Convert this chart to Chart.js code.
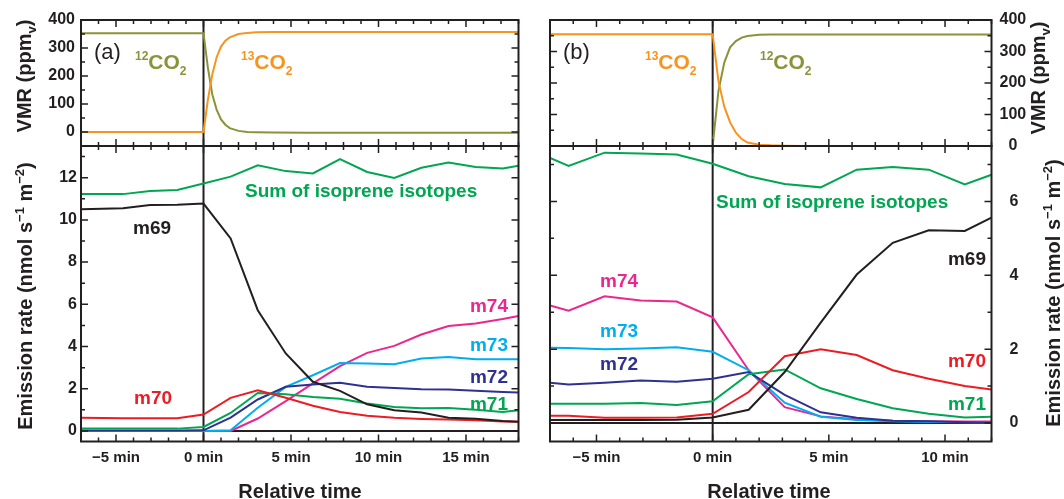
<!DOCTYPE html>
<html>
<head>
<meta charset="utf-8">
<script src="https://cdn.jsdelivr.net/npm/chart.js@4.4.0/dist/chart.umd.min.js"></script>
<style>
  body { margin: 0; background: #fff; }
  #wrap { position: relative; width: 1064px; height: 499px; overflow: hidden; font-family: "Liberation Sans", Arial, sans-serif; color: #231f20; }
  canvas { position: absolute; left: 0; top: 0; }
  .t { position: absolute; white-space: nowrap; line-height: 1; font-weight: bold; transform: translateY(-50%); }
  .r { transform: translate(-50%, -50%) rotate(-90deg); font-size: 20px; }
  .up { position: relative; font-size: 12px; top: -9px; }
  .dn { position: relative; font-size: 12px; top: 6px; }
  .sup { position: relative; font-size: 13px; top: -8px; }
  .sub { position: relative; font-size: 13px; top: 5px; }
</style>
</head>
<body>
<div id="wrap">
  <canvas id="topA" width="1064" height="499"></canvas>
  <canvas id="botA" width="1064" height="499"></canvas>
  <canvas id="topB" width="1064" height="499"></canvas>
  <canvas id="botB" width="1064" height="499"></canvas>

  <div class="t" style="left:94px;top:52px;font-size:22px;font-weight:normal">(a)</div>
  <div class="t" style="left:135px;top:61px;font-size:21px;color:#8a9337"><span class="up">12</span>CO<span class="dn">2</span></div>
  <div class="t" style="left:241px;top:61px;font-size:21px;color:#f7941d"><span class="up">13</span>CO<span class="dn">2</span></div>
  <div class="t" style="left:563px;top:52px;font-size:22px;font-weight:normal">(b)</div>
  <div class="t" style="left:645px;top:61px;font-size:21px;color:#f7941d"><span class="up">13</span>CO<span class="dn">2</span></div>
  <div class="t" style="left:760px;top:61px;font-size:21px;color:#8a9337"><span class="up">12</span>CO<span class="dn">2</span></div>

  <div class="t" style="left:245px;top:190px;font-size:19px;color:#00a651">Sum of isoprene isotopes</div>
  <div class="t" style="left:133px;top:227px;font-size:19px">m69</div>
  <div class="t" style="left:134px;top:397px;font-size:19px;color:#ed1c24">m70</div>
  <div class="t" style="right:556px;top:305px;font-size:19px;color:#ec268f">m74</div>
  <div class="t" style="right:556px;top:344px;font-size:19px;color:#00aeef">m73</div>
  <div class="t" style="right:556px;top:376px;font-size:19px;color:#2e3192">m72</div>
  <div class="t" style="right:556px;top:403px;font-size:19px;color:#00a651">m71</div>

  <div class="t" style="left:716px;top:201px;font-size:19px;color:#00a651">Sum of isoprene isotopes</div>
  <div class="t" style="left:600px;top:280px;font-size:19px;color:#ec268f">m74</div>
  <div class="t" style="left:600px;top:330px;font-size:19px;color:#00aeef">m73</div>
  <div class="t" style="left:600px;top:363px;font-size:19px;color:#2e3192">m72</div>
  <div class="t" style="right:78px;top:258px;font-size:19px">m69</div>
  <div class="t" style="right:78px;top:360px;font-size:19px;color:#ed1c24">m70</div>
  <div class="t" style="right:78px;top:403px;font-size:19px;color:#00a651">m71</div>

  <div class="t r" style="left:24px;top:76px">VMR (ppm<span class="sub">v</span>)</div>
  <div class="t r" style="left:25px;top:296px">Emission rate (nmol s<span class="sup">−1</span> m<span class="sup">−2</span>)</div>
  <div class="t r" style="left:1038px;top:78px">VMR (ppm<span class="sub">v</span>)</div>
  <div class="t r" style="left:1053px;top:293px">Emission rate (nmol s<span class="sup">−1</span> m<span class="sup">−2</span>)</div>
  <div class="t" style="left:300px;top:491px;font-size:20px;transform:translate(-50%,-50%)">Relative time</div>
  <div class="t" style="left:769px;top:491px;font-size:20px;transform:translate(-50%,-50%)">Relative time</div>
</div>

<script>
const INK = '#231f20';
const OLIVE = '#8a9337';
const ORANGE = '#f7941d';
const GREEN = '#00a651';
const RED = '#ed1c24';
const NAVY = '#2e3192';
const CYAN = '#00aeef';
const PINK = '#ec268f';

// tick labels
const xTicksA = [-5, 0, 5, 10, 15];
const xTicksB = [-5, 0, 5, 10];
const vmrTicks = [0, 100, 200, 300, 400];
const rateTicksA = [0, 2, 4, 6, 8, 10, 12];
const rateTicksB = [0, 2, 4, 6];

// (a) CO2 switch 12C -> 13C
const co2TimesA = [-7, 0, 0.25, 0.5, 0.75, 1, 1.25, 1.5, 2, 2.5, 3, 4, 6, 18];
const co2_12A = [353, 353, 230, 135, 80, 45, 26, 14, 4, 0, -1, -2, -3, -3];
const co2_13A = [0, 0, 115, 205, 267, 305, 326, 338, 350, 354, 356, 357, 357, 357];

// (b) CO2 switch 13C -> 12C
const co2TimesB = [-7, 0, 0.25, 0.5, 0.75, 1, 1.25, 1.5, 2, 2.5, 3, 4, 6, 12];
const co2_12B = [0, 0, 175, 265, 313, 333, 344, 349, 353, 354, 354, 354, 354, 354];
const co2_13B = [355, 355, 205, 125, 75, 42, 22, 11, 4, 2, 1, 0, 0, 0];

// (a) emission rates, nmol s-1 m-2
const timesA = [-7, -4.6, -3.05, -1.5, 0, 1.55, 3.1, 4.7, 6.25, 7.8, 9.35, 10.9, 12.45, 14.0, 15.55, 17.1, 18];
const sumA = [11.22, 11.22, 11.37, 11.42, 11.72, 12.05, 12.59, 12.31, 12.2, 12.88, 12.27, 11.99, 12.47, 12.72, 12.51, 12.43, 12.56];
const m69A = [10.5, 10.55, 10.7, 10.72, 10.77, 9.12, 5.72, 3.67, 2.33, 1.9, 1.26, 0.98, 0.87, 0.63, 0.58, 0.47, 0.43];
const m70A = [0.62, 0.6, 0.6, 0.6, 0.78, 1.57, 1.93, 1.57, 1.19, 0.9, 0.72, 0.62, 0.57, 0.54, 0.51, 0.45, 0.43];
const m71A = [0.11, 0.11, 0.11, 0.11, 0.19, 0.85, 1.8, 1.74, 1.61, 1.52, 1.3, 1.14, 1.07, 1.09, 1.0, 0.9, 0.98];
const m72A = [0.02, 0.02, 0.02, 0.02, 0.03, 0.63, 1.49, 2.09, 2.2, 2.28, 2.09, 2.04, 1.98, 1.96, 1.9, 1.85, 1.82];
const m73A = [0, 0, 0, 0, 0, 0.03, 1.1, 2.09, 2.64, 3.22, 3.19, 3.16, 3.43, 3.5, 3.4, 3.4, 3.4];
const m74A = [0, 0, 0, 0, 0, 0, 0.59, 1.41, 2.25, 3.07, 3.7, 4.03, 4.57, 4.97, 5.09, 5.3, 5.45];

// (b) emission rates
const timesB = [-7, -6.2, -4.65, -3.1, -1.55, 0, 1.55, 3.1, 4.65, 6.2, 7.75, 9.3, 10.85, 12];
const sumB = [7.18, 6.96, 7.32, 7.3, 7.27, 7.02, 6.68, 6.47, 6.38, 6.86, 6.93, 6.86, 6.46, 6.72];
const m69B = [0.08, 0.08, 0.08, 0.08, 0.09, 0.15, 0.36, 1.38, 2.72, 4.02, 4.88, 5.22, 5.2, 5.56];
const m70B = [0.2, 0.2, 0.14, 0.14, 0.15, 0.25, 0.84, 1.81, 2.0, 1.84, 1.43, 1.2, 1.0, 0.91];
const m71B = [0.52, 0.52, 0.52, 0.54, 0.49, 0.59, 1.32, 1.45, 0.94, 0.65, 0.4, 0.25, 0.15, 0.17];
const m72B = [1.09, 1.04, 1.09, 1.15, 1.12, 1.2, 1.38, 0.76, 0.29, 0.14, 0.06, 0.05, 0.02, 0.01];
const m73B = [2.04, 2.03, 2.0, 2.02, 2.05, 1.93, 1.43, 0.55, 0.17, 0.08, 0.05, 0.03, 0.02, 0.01];
const m74B = [3.18, 3.04, 3.43, 3.32, 3.29, 2.86, 1.43, 0.43, 0.18, 0.1, 0.06, 0.05, 0.04, 0.04];

Chart.defaults.font.family = '"Liberation Sans", Arial, sans-serif';
Chart.defaults.color = INK;

function isStep(v, step) {
    const r = Math.abs(v / step - Math.round(v / step));
    return r < 1e-6;
}

// frame, inward ticks, the 0 min line and the zero line
const frameTicks = {
    id: 'frameTicks',
    beforeDatasetsDraw(chart, args, o) {
        const {ctx, chartArea: a, scales: {x, y}} = chart;
        ctx.save();
        ctx.beginPath();
        ctx.rect(a.left, a.top, a.right - a.left, a.bottom - a.top);
        ctx.clip();
        ctx.strokeStyle = INK;
        ctx.lineWidth = 2;
        const x0 = x.getPixelForValue(0);
        ctx.beginPath();
        ctx.moveTo(x0, a.top);
        ctx.lineTo(x0, a.bottom);
        ctx.stroke();
        if (o.zero) {
            const y0 = y.getPixelForValue(0);
            ctx.beginPath();
            ctx.moveTo(a.left, y0);
            ctx.lineTo(a.right, y0);
            ctx.stroke();
        }
        ctx.restore();
    },
    afterDatasetsDraw(chart, args, o) {
        const {ctx, chartArea: a, scales: {x, y}} = chart;
        ctx.save();
        ctx.strokeStyle = INK;
        ctx.lineWidth = 1.5;
        ctx.beginPath();
        for (let v = Math.ceil(x.min / o.xMinor) * o.xMinor; v <= x.max + 1e-9; v += o.xMinor) {
            const px = x.getPixelForValue(v);
            const len = isStep(v, o.xMajor) ? 7 : 4;
            ctx.moveTo(px, a.top); ctx.lineTo(px, a.top + len);
            ctx.moveTo(px, a.bottom); ctx.lineTo(px, a.bottom - len);
        }
        for (let v = Math.ceil(y.min / o.yMinor) * o.yMinor; v <= y.max + 1e-9; v += o.yMinor) {
            const py = y.getPixelForValue(v);
            const len = isStep(v, o.yMajor) ? 7 : 4;
            ctx.moveTo(a.left, py); ctx.lineTo(a.left + len, py);
            ctx.moveTo(a.right, py); ctx.lineTo(a.right - len, py);
        }
        ctx.stroke();
        ctx.lineWidth = 2;
        ctx.strokeRect(a.left, a.top, a.right - a.left, a.bottom - a.top);
        ctx.restore();
    }
};

function minLabel(v) {
    if (v === 0) return '0 min';
    return (v < 0 ? '\u2212' + (-v) : v) + ' min';
}

function makeSet(times, vals, color) {
    return {
        data: times.map((t, i) => ({x: t, y: vals[i]})),
        borderColor: color,
        borderWidth: 2,
        pointRadius: 0,
        tension: 0,
        fill: false
    };
}

function panel(id, c) {
    return new Chart(document.getElementById(id), {
        type: 'line',
        data: {datasets: c.sets},
        plugins: [frameTicks],
        options: {
            responsive: false,
            animation: false,
            devicePixelRatio: 1,
            layout: {padding: c.pad},
            plugins: {
                legend: {display: false},
                tooltip: {enabled: false},
                frameTicks: c.ticks
            },
            scales: {
                x: {
                    type: 'linear',
                    min: -7,
                    max: c.xMax,
                    display: c.showX,
                    grid: {display: false, drawTicks: false},
                    border: {display: false},
                    ticks: {
                        autoSkip: false, maxRotation: 0,
                        padding: 7, font: {size: 15, weight: 'bold'}, color: INK,
                        callback: minLabel
                    },
                    afterBuildTicks: s => { s.ticks = c.xTicks.map(v => ({value: v})); },
                    afterFit: s => { s.height = c.showX ? 40 : 0; }
                },
                y: {
                    type: 'linear',
                    position: c.side,
                    min: c.yMin,
                    max: c.yMax,
                    grid: {display: false, drawTicks: false},
                    border: {display: false},
                    ticks: {
                        autoSkip: false,
                        padding: c.yPad, crossAlign: c.side === 'right' ? 'center' : 'near',
                        font: {size: 16, weight: 'bold'}, color: INK
                    },
                    afterBuildTicks: s => { s.ticks = c.yTicks.map(v => ({value: v})); },
                    afterFit: s => { s.width = 40; }
                }
            }
        }
    });
}

panel('topA', {
    sets: [makeSet(co2TimesA, co2_13A, ORANGE), makeSet(co2TimesA, co2_12A, OLIVE)],
    xMax: 18, xTicks: xTicksA, showX: false, side: 'left', yMin: -50, yMax: 400, yTicks: vmrTicks, yPad: 6,
    pad: {left: 41, top: 20, right: 545.5, bottom: 353},
    ticks: {xMinor: 1, xMajor: 5, yMinor: 50, yMajor: 100, zero: false}
});

panel('botA', {
    sets: [makeSet(timesA, sumA, GREEN), makeSet(timesA, m69A, INK), makeSet(timesA, m70A, RED),
        makeSet(timesA, m71A, GREEN), makeSet(timesA, m72A, NAVY), makeSet(timesA, m73A, CYAN),
        makeSet(timesA, m74A, PINK)],
    xMax: 18, xTicks: xTicksA, showX: true, side: 'left', yMin: -0.5, yMax: 13.5, yTicks: rateTicksA, yPad: 4,
    pad: {left: 41, top: 146, right: 545.5, bottom: 17.5},
    ticks: {xMinor: 1, xMajor: 5, yMinor: 1, yMajor: 2, zero: true}
});

panel('topB', {
    sets: [makeSet(co2TimesB, co2_13B, ORANGE), makeSet(co2TimesB, co2_12B, OLIVE)],
    xMax: 12, xTicks: xTicksB, showX: false, side: 'right', yMin: 0, yMax: 400, yTicks: vmrTicks, yPad: 8,
    pad: {left: 550, top: 20, right: 32.5, bottom: 353},
    ticks: {xMinor: 1, xMajor: 5, yMinor: 50, yMajor: 100, zero: false}
});

panel('botB', {
    sets: [makeSet(timesB, sumB, GREEN), makeSet(timesB, m69B, INK), makeSet(timesB, m70B, RED),
        makeSet(timesB, m71B, GREEN), makeSet(timesB, m72B, NAVY), makeSet(timesB, m73B, CYAN),
        makeSet(timesB, m74B, PINK)],
    xMax: 12, xTicks: xTicksB, showX: true, side: 'right', yMin: -0.5, yMax: 7.5, yTicks: rateTicksB, yPad: 18,
    pad: {left: 550, top: 146, right: 32.5, bottom: 17.5},
    ticks: {xMinor: 1, xMajor: 5, yMinor: 1, yMajor: 2, zero: true}
});
</script>
</body>
</html>
